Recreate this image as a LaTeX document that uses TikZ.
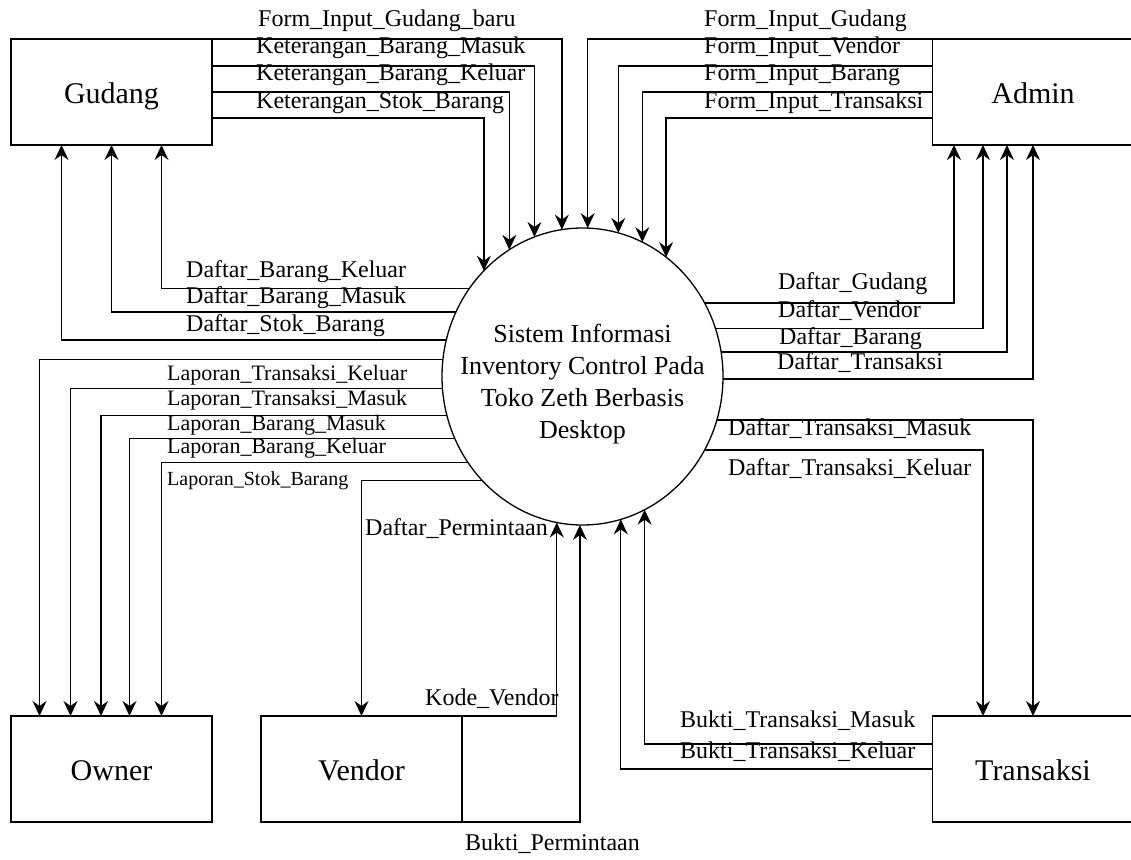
\documentclass[tikz,border=0pt]{standalone}
\usepackage{fontspec}
\setmainfont{Liberation Serif}
\usetikzlibrary{arrows.meta,shapes.geometric}
\newcommand\cAngT[2]{\pgfmathsetmacro#1{mod(360+atan2(148.5*sqrt(1-(((#2)-582.5)/140.5)^2),(#2)-582.5),360)}}
\newcommand\cAngB[2]{\pgfmathsetmacro#1{mod(360+atan2(-148.5*sqrt(1-(((#2)-582.5)/140.5)^2),(#2)-582.5),360)}}
\newcommand\cAngL[2]{\pgfmathsetmacro#1{mod(360+atan2(376.5-(#2),-140.5*sqrt(1-(((#2)-376.5)/148.5)^2)),360)}}
\newcommand\cAngR[2]{\pgfmathsetmacro#1{mod(360+atan2(376.5-(#2),140.5*sqrt(1-(((#2)-376.5)/148.5)^2)),360)}}
\begin{document}
\begin{tikzpicture}[x=1pt,y=-1pt,
  box/.style={draw,rectangle,line width=1.3pt,minimum width=201pt,minimum height=106pt,inner sep=0pt,outer sep=0pt,font=\fontsize{30}{30}\selectfont,text height=23pt,text depth=0pt},
  flow/.style={draw,line width=1.3pt,-{Stealth[length=15pt,width=14pt,inset=5pt]}},
  lbl/.style={anchor=base west,inner sep=0pt,font=\fontsize{24}{24}\selectfont},
  lbls/.style={lbl,font=\fontsize{22}{22}\selectfont},
  lblt/.style={lbl,font=\fontsize{20}{20}\selectfont}]
\useasboundingbox (0,0) rectangle (1131,859);
% entities
\node[box] (gudang) at (111.5,92) {Gudang};
\node[box] (admin) at (1033,92) {Admin};
\node[box] (owner) at (111.5,769) {Owner};
\node[box] (vendor) at (361.5,769) {Vendor};
\node[box] (transaksi) at (1033,769) {Transaksi};
% process
\node[draw,ellipse,line width=1.3pt,minimum width=281pt,minimum height=297pt,inner sep=0pt,outer sep=0pt] (circ) at (582.5,376.5) {};
\node[align=center,inner sep=0pt,font=\fontsize{26}{32}\selectfont] (ctext) at (582.5,384) {Sistem Informasi\\Inventory Control Pada\\Toko Zeth Berbasis\\Desktop};
% Gudang -> process
\cAngT\gA{560}\cAngT\gB{533}\cAngT\gC{509}\cAngT\gD{483}
\draw[flow] (gudang.north east) -| (circ.\gA);
\draw[flow] ([yshift=-27pt]gudang.north east) -| (circ.\gB);
\draw[flow] ([yshift=-53pt]gudang.north east) -| (circ.\gC);
\draw[flow] ([yshift=-79pt]gudang.north east) -| (circ.\gD);
% Admin -> process
\cAngT\aA{587}\cAngT\aB{618}\cAngT\aC{642}\cAngT\aD{665}
\draw[flow] (admin.north west) -| (circ.\aA);
\draw[flow] ([yshift=-27pt]admin.north west) -| (circ.\aB);
\draw[flow] ([yshift=-53pt]admin.north west) -| (circ.\aC);
\draw[flow] ([yshift=-79pt]admin.north west) -| (circ.\aD);
% process -> Gudang
\cAngL\dA{289}\cAngL\dB{314}\cAngL\dC{341}
\draw[flow] (circ.\dA) -| ([xshift=50pt]gudang.south);
\draw[flow] (circ.\dB) -| (gudang.south);
\draw[flow] (circ.\dC) -| ([xshift=-50pt]gudang.south);
% process -> Owner
\cAngL\lA{361}\cAngL\lB{391}\cAngL\lC{416}\cAngL\lD{440}\cAngL\lE{464}
\draw[flow] (circ.\lA) -| ([xshift=-72pt]owner.north);
\draw[flow] (circ.\lB) -| ([xshift=-41pt]owner.north);
\draw[flow] (circ.\lC) -| ([xshift=-10.5pt]owner.north);
\draw[flow] (circ.\lD) -| ([xshift=18pt]owner.north);
\draw[flow] (circ.\lE) -| ([xshift=50pt]owner.north);
% Vendor
\cAngL\vA{481}\cAngB\vB{558}\cAngB\vC{582}
\draw[flow] (circ.\vA) -| (vendor.north);
\draw[flow] (vendor.north east) -| (circ.\vB);
\draw[flow] (vendor.south east) -| (circ.\vC);
% process -> Admin
\cAngR\rA{302}\cAngR\rB{327}\cAngR\rC{352}\cAngR\rD{377}
\draw[flow] (circ.\rA) -| ([xshift=-79pt]admin.south);
\draw[flow] (circ.\rB) -| ([xshift=-50pt]admin.south);
\draw[flow] (circ.\rC) -| ([xshift=-26pt]admin.south);
\draw[flow] (circ.\rD) -| (admin.south);
% Transaksi
\cAngR\tA{418}\cAngR\tB{448}\cAngB\tC{646}\cAngB\tD{622}
\draw[flow] (circ.\tA) -| (transaksi.north);
\draw[flow] (circ.\tB) -| ([xshift=-50pt]transaksi.north);
\draw[flow] ([yshift=25pt]transaksi.west) -| (circ.\tC);
\draw[flow] (transaksi.west) -| (circ.\tD);
% labels
\node[lbl] (l1) at (258,27) {Form\_Input\_Gudang\_baru};
\node[lbl] (l2) at (256,54) {Keterangan\_Barang\_Masuk};
\node[lbl] (l3) at (256,81) {Keterangan\_Barang\_Keluar};
\node[lbl] (l4) at (256,108) {Keterangan\_Stok\_Barang};
\node[lbl] (l5) at (704,27) {Form\_Input\_Gudang};
\node[lbl] (l6) at (704,54) {Form\_Input\_Vendor};
\node[lbl] (l7) at (704,81) {Form\_Input\_Barang};
\node[lbl] (l8) at (704,108) {Form\_Input\_Transaksi};
\node[lbl] (l9) at (186,277) {Daftar\_Barang\_Keluar};
\node[lbl] (l10) at (186,303) {Daftar\_Barang\_Masuk};
\node[lbl] (l11) at (186,331) {Daftar\_Stok\_Barang};
\node[lbls] (l12) at (167,380) {Laporan\_Transaksi\_Keluar};
\node[lbls] (l13) at (167,405) {Laporan\_Transaksi\_Masuk};
\node[lbls] (l14) at (167,430) {Laporan\_Barang\_Masuk};
\node[lbls] (l15) at (167,453) {Laporan\_Barang\_Keluar};
\node[lblt] (l16) at (167,485) {Laporan\_Stok\_Barang};
\node[lbl] (l17) at (365,535) {Daftar\_Permintaan};
\node[lbl] (l18) at (425,705) {Kode\_Vendor};
\node[lbl] (l19) at (465,850) {Bukti\_Permintaan};
\node[lbl] (l20) at (778,289) {Daftar\_Gudang};
\node[lbl] (l21) at (778,317) {Daftar\_Vendor};
\node[lbl] (l22) at (779,344) {Daftar\_Barang};
\node[lbl] (l23) at (777,369) {Daftar\_Transaksi};
\node[lbl] (l24) at (728,435) {Daftar\_Transaksi\_Masuk};
\node[lbl] (l25) at (728,475) {Daftar\_Transaksi\_Keluar};
\node[lbl] (l26) at (680,727) {Bukti\_Transaksi\_Masuk};
\node[lbl] (l27) at (680,758) {Bukti\_Transaksi\_Keluar};
\end{tikzpicture}
\end{document}
